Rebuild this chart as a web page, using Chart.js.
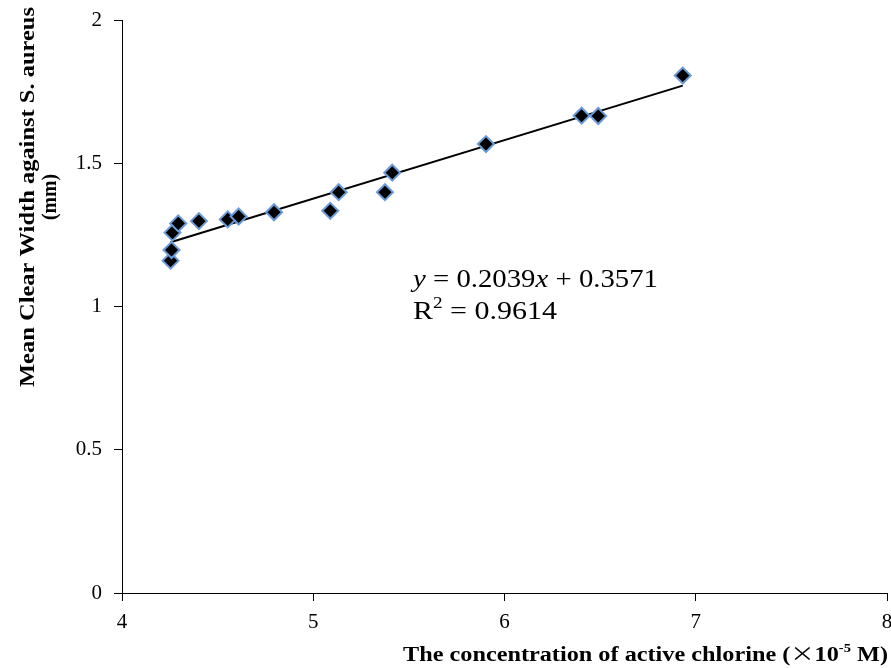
<!DOCTYPE html>
<html>
<head>
<meta charset="utf-8">
<script src="https://cdn.jsdelivr.net/npm/chart.js@4.4.1/dist/chart.umd.min.js"></script>
<style>
  body { margin: 0; background: #fff; }
  #wrap { width: 891px; height: 668px; position: relative; }
</style>
</head>
<body>
<div id="wrap"><canvas id="chart"></canvas></div>
<script>
// values
const chlorine = [4.254, 4.259, 4.264, 4.294, 4.402, 4.553, 4.610, 4.795, 5.089, 5.133, 5.375, 5.413, 5.903, 6.403, 6.490, 6.932];
const clearWidth = [1.160, 1.197, 1.258, 1.290, 1.298, 1.304, 1.314, 1.329, 1.334, 1.399, 1.399, 1.467, 1.567, 1.666, 1.665, 1.806];
// trendline end points as drawn
const trendX = [4.254, 6.932];
const trendY = [1.224, 1.771];
const xTicks = [4, 5, 6, 7, 8];
const equationText = ['y', ' = 0.2039', 'x', ' + 0.3571'];
const r2Text = ' = 0.9614';
const yTitle = ['Mean Clear Width against S. aureus', '(mm)'];

const SERIF = '"Liberation Serif", "Times New Roman", serif';

// draw a run of text pieces squeezed/stretched to a given width
function drawRun(ctx, parts, x, y, width) {
  let total = 0;
  parts.forEach(p => { ctx.font = p.f; p.w = ctx.measureText(p.t).width; total += p.w; });
  const k = width ? width / total : 1;
  ctx.save();
  ctx.translate(x, y);
  ctx.scale(k, 1);
  let cx = 0;
  parts.forEach(p => { ctx.font = p.f; ctx.fillText(p.t, cx, p.dy || 0); cx += p.w; });
  ctx.restore();
}

const textPlugin = {
  id: 'texts',
  afterDraw(chart) {
    const ctx = chart.ctx;
    ctx.save();
    ctx.fillStyle = '#000';

    // x tick labels
    const xs = chart.scales.x;
    ctx.font = '21px ' + SERIF;
    ctx.textAlign = 'center';
    ctx.textBaseline = 'middle';
    xTicks.forEach(v => ctx.fillText(String(v), xs.getPixelForValue(v), 622));

    ctx.textAlign = 'left';
    ctx.textBaseline = 'alphabetic';

    // y axis title, two lines rotated
    ctx.save();
    ctx.translate(0, 197);
    ctx.rotate(-Math.PI / 2);
    drawRun(ctx, [{ t: yTitle[0], f: 'bold 20px ' + SERIF }], -190, 34, 380);
    drawRun(ctx, [{ t: yTitle[1], f: 'bold 20px ' + SERIF }], -23, 56, 46);
    ctx.restore();

    // x axis title, right aligned with superscript
    drawRun(ctx, [
      { t: 'The concentration of active chlorine (', f: 'bold 20px ' + SERIF },
      { t: '\u00D7', f: '20px "Noto Sans CJK SC", ' + SERIF },
      { t: '10', f: 'bold 20px ' + SERIF },
      { t: '-5', f: 'bold 12px ' + SERIF, dy: -9 },
      { t: ' M)', f: 'bold 20px ' + SERIF }
    ], 403, 661, 485);

    // regression equation
    drawRun(ctx, [
      { t: equationText[0], f: 'italic 25px ' + SERIF },
      { t: equationText[1], f: '25px ' + SERIF },
      { t: equationText[2], f: 'italic 25px ' + SERIF },
      { t: equationText[3], f: '25px ' + SERIF }
    ], 413, 287, 245);
    drawRun(ctx, [
      { t: 'R', f: '25px ' + SERIF },
      { t: '2', f: '16px ' + SERIF, dy: -11 },
      { t: r2Text, f: '25px ' + SERIF }
    ], 413, 319, 144);
    ctx.restore();
  }
};

const points = chlorine.map((v, i) => ({ x: v, y: clearWidth[i] }));
const trend = trendX.map((v, i) => ({ x: v, y: trendY[i] }));

new Chart(document.getElementById('chart'), {
  type: 'scatter',
  data: {
    datasets: [
      {
        label: 'trend',
        data: trend,
        showLine: true,
        borderColor: '#000',
        borderWidth: 2,
        pointRadius: 0,
        order: 2
      },
      {
        label: 'Mean clear width',
        data: points,
        pointStyle: 'rectRot',
        pointRadius: 8,
        pointBorderWidth: 2,
        pointBackgroundColor: '#000',
        pointBorderColor: '#6a9bd8',
        order: 1
      }
    ]
  },
  options: {
    responsive: true,
    maintainAspectRatio: false,
    animation: false,
    layout: { autoPadding: false, padding: { top: 20, right: 4, left: 0, bottom: 0 } },
    plugins: {
      legend: { display: false },
      tooltip: { enabled: false }
    },
    scales: {
      x: {
        type: 'linear',
        min: 4,
        max: 8,
        afterFit(scale) { scale.height = 75; },
        ticks: { stepSize: 1, display: false },
        grid: { display: true, drawOnChartArea: false, drawTicks: true, tickLength: 8, color: '#000' },
        border: { display: true, color: '#000', width: 1 }
      },
      y: {
        min: 0,
        max: 2,
        afterFit(scale) { scale.width = 122; scale.paddingTop = 0; scale.paddingBottom = 0; },
        ticks: {
          stepSize: 0.5,
          color: '#000',
          padding: 12,
          font: { family: SERIF, size: 21 },
          callback: v => String(v)
        },
        grid: { display: true, drawOnChartArea: false, drawTicks: true, tickLength: 8, color: '#000' },
        border: { display: true, color: '#000', width: 1 }
      }
    }
  },
  plugins: [textPlugin]
});
</script>
</body>
</html>
